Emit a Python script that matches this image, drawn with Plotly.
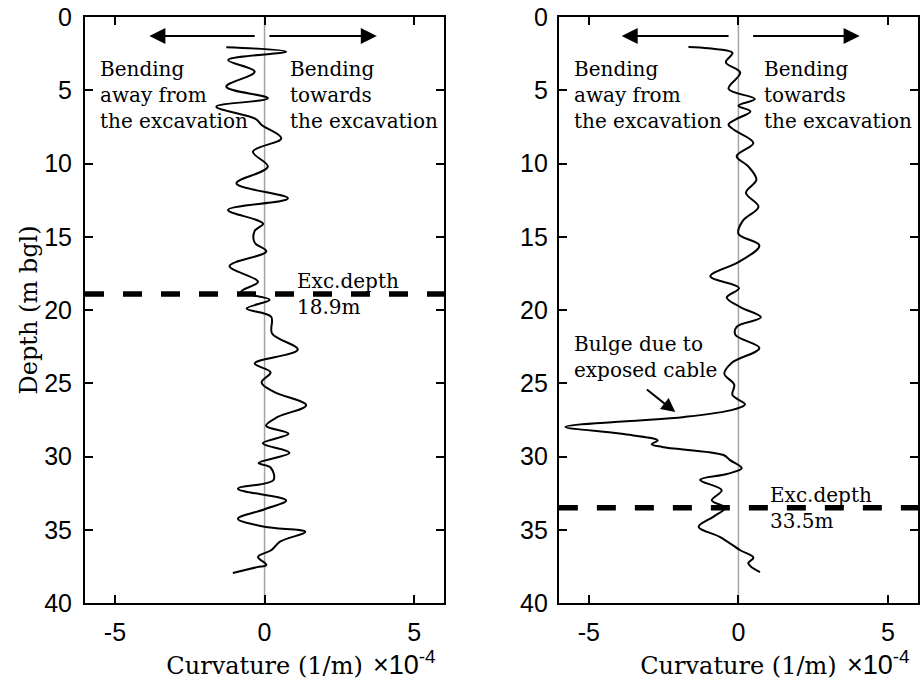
import plotly.graph_objects as go

# ---------------- data ----------------
left_depth = [2.07, 2.37, 2.94, 3.73, 4.76, 5.55, 6.12, 6.95, 7.37, 8.28, 9.19, 10.22, 11.35, 12.38,
              13.17, 14.1, 14.6, 15.4, 16.0, 17.0, 18.07, 18.75, 19.3, 19.9, 20.46, 21.6, 22.7, 23.65,
              24.25, 24.95, 25.6, 26.5, 27.3, 27.9, 28.45, 29.1, 29.75, 30.45, 30.75, 31.6, 32.2, 33.0,
              33.6, 34.25, 34.8, 35.15, 35.8, 36.4, 36.85, 37.4, 37.55, 37.95]
left_curv = [-1.28, 0.72, -1.22, -0.33, -1.28, 0.11, -1.61, -0.3, -0.1, 0.56, -0.39, 0.11, -0.94, 0.78,
             -1.22, -0.05, -0.33, -0.33, 0.06, -1.17, -0.22, -0.78, 0.17, -0.6, 0.22, 0.25, 1.11, -0.33,
             0.2, -0.1, 0.33, 1.39, 0.44, 0.05, 0.8, -0.06, 0.83, -0.2, 0.2, 0.3, -0.89, 0.72,
             0.0, -0.89, 0.0, 1.36, 0.53, 0.22, -0.22, 0.06, -0.25, -1.06]

right_depth = [2.05, 2.14, 2.45, 3.1, 3.8, 4.9, 5.6, 6.05, 6.45, 7.0, 7.35, 7.7, 8.6, 9.5, 10.2, 11.1,
               12.0, 12.95, 13.9, 14.8, 15.6, 16.7, 17.7, 18.5, 19.15, 19.8, 20.5, 21.15, 21.7, 22.6,
               23.6, 24.35, 25.1, 25.8, 26.45, 26.8, 27.3, 27.6, 27.98, 28.45, 28.9, 29.15, 29.35,
               29.9, 30.25, 30.8, 31.2, 31.6, 32.3, 33.0, 33.5, 34.1, 34.8, 35.5, 36.4, 36.9, 37.3, 37.9]
right_curv = [-1.67, -1.0, -0.2, -0.42, 0.06, -0.33, 0.55, 0.0, 0.4, -0.1, -0.33, -0.15, 0.5, -0.06,
              0.33, 0.6, 0.25, 0.67, 0.15, 0.0, 0.7, 0.03, -0.94, 0.02, -0.39, 0.06, 0.75, -0.06, -0.1,
              0.7, -0.22, -0.47, -0.14, -0.2, 0.22, -0.17, -1.8, -3.75, -5.78, -3.9, -2.7, -2.9, -2.55,
              -0.5, -0.28, 0.11, -0.39, -1.28, -0.56, -0.89, -0.44, -0.83, -1.33, -0.61, 0.06, 0.5,
              0.33, 0.72]

exc_depths = [18.9, 33.5]
exc_labels = ["Exc.depth<br>18.9m", "Exc.depth<br>33.5m"]
x_range = [-6, 6]
y_range = [0, 40]
x_ticks = [-5, 0, 5]
x_ticklabels = ["-5", "0", "5"]
y_ticks = [0, 5, 10, 15, 20, 25, 30, 35, 40]
y_ticklabels = ["0", "5", "10", "15", "20", "25", "30", "35", "40"]

# direction arrows (tail -> head), in data units
dir_arrows_left = [((-0.28, 1.3), (-3.85, 1.3)), ((0.11, 1.3), (3.75, 1.3))]
dir_arrows_right = [((-0.28, 1.3), (-3.9, 1.3)), ((0.44, 1.3), (4.05, 1.3))]
bulge_arrow = ((-3.11, 25.35), (-2.11, 26.97))

# ---------------- figure ----------------
SERIF = "DejaVu Serif"
SANS = "Liberation Sans"
W, H = 920, 682
ml, mr, mt, mb = 85, 0, 17, 79
pw = W - ml - mr

fig = go.Figure()
panels = [("x", "y", left_depth, left_curv, exc_depths[0]),
          ("x2", "y2", right_depth, right_curv, exc_depths[1])]

for xa, ya, dep, cur, exd in panels:
    fig.add_trace(go.Scatter(x=[0, 0], y=y_range, mode="lines",
                             line=dict(color="rgb(165,165,165)", width=1.5),
                             xaxis=xa, yaxis=ya, showlegend=False, hoverinfo="skip"))
    fig.add_trace(go.Scatter(x=cur, y=dep, mode="lines",
                             line=dict(color="black", width=2, shape="spline", smoothing=1.0),
                             xaxis=xa, yaxis=ya, showlegend=False))
    fig.add_trace(go.Scatter(x=x_range, y=[exd, exd], mode="lines",
                             line=dict(color="black", width=5.5, dash="19px,19px"),
                             xaxis=xa, yaxis=ya, showlegend=False, hoverinfo="skip"))


def arrow_ann(tail, head, xa, ya, size=1.6):
    return dict(x=head[0], y=head[1], ax=tail[0], ay=tail[1], xref=xa, yref=ya, axref=xa, ayref=ya,
                showarrow=True, arrowhead=2, arrowsize=size, arrowwidth=2,
                arrowcolor="black", text="")


annotations = []
for (xa, ya), exl, exd, arrows in zip([("x", "y"), ("x2", "y2")], exc_labels, exc_depths,
                                      [dir_arrows_left, dir_arrows_right]):
    for tail, head in arrows:
        annotations.append(arrow_ann(tail, head, xa, ya))
    annotations.append(dict(x=-5.55, y=5.3, xref=xa, yref=ya, xanchor="left", yanchor="middle",
                            align="left", showarrow=False,
                            text="Bending<br>away from<br>the excavation",
                            font=dict(family=SERIF, size=20, color="black")))
    annotations.append(dict(x=0.78, y=5.3, xref=xa, yref=ya, xanchor="left", yanchor="middle",
                            align="left", showarrow=False,
                            text="Bending<br>towards<br>the excavation",
                            font=dict(family=SERIF, size=20, color="black")))
    annotations.append(dict(x=1.0, y=exd, xref=xa, yref=ya, xanchor="left", yanchor="middle",
                            align="left", showarrow=False, text=exl,
                            font=dict(family=SERIF, size=20, color="black")))
    annotations.append(dict(x=3.55, y=-0.135, xref=xa, yref="paper", xanchor="left", yanchor="bottom",
                            showarrow=False, text="×10<sup>-4</sup>",
                            font=dict(family=SANS, size=27, color="black")))

annotations.append(dict(x=-5.55, y=23.2, xref="x2", yref="y2", xanchor="left", yanchor="middle",
                        align="left", showarrow=False, text="Bulge due to<br>exposed cable",
                        font=dict(family=SERIF, size=20, color="black")))
annotations.append(arrow_ann(bulge_arrow[0], bulge_arrow[1], "x2", "y2", 1.4))

axis_common = dict(showline=True, linecolor="black", linewidth=2, mirror="ticks",
                   ticks="inside", ticklen=8, tickwidth=2, tickcolor="black",
                   showgrid=False, zeroline=False,
                   tickfont=dict(family=SANS, size=25, color="black"))

fig.update_layout(
    width=W, height=H,
    margin=dict(l=ml, r=mr, t=mt, b=mb, pad=0),
    paper_bgcolor="white", plot_bgcolor="white",
    showlegend=False,
    xaxis=dict(domain=[0, 360 / pw], range=x_range, tickvals=x_ticks, ticktext=x_ticklabels,
               title=dict(text="Curvature (1/m)", font=dict(family=SERIF, size=24, color="black"),
                          standoff=12),
               anchor="y", ticklabelstandoff=6, **axis_common),
    xaxis2=dict(domain=[475 / pw, 1], range=x_range, tickvals=x_ticks, ticktext=x_ticklabels,
                title=dict(text="Curvature (1/m)", font=dict(family=SERIF, size=24, color="black"),
                           standoff=12),
                anchor="y2", ticklabelstandoff=6, **axis_common),
    yaxis=dict(domain=[0, 1], range=y_range[::-1], tickvals=y_ticks, ticktext=y_ticklabels,
               title=dict(text="Depth (m bgl)", font=dict(family=SERIF, size=24, color="black"),
                          standoff=0),
               anchor="x", ticklabelstandoff=6, **axis_common),
    yaxis2=dict(domain=[0, 1], range=y_range[::-1], tickvals=y_ticks, ticktext=y_ticklabels,
                anchor="x2", ticklabelstandoff=4, **axis_common),
    annotations=annotations,
)

fig.write_html("out.html")
